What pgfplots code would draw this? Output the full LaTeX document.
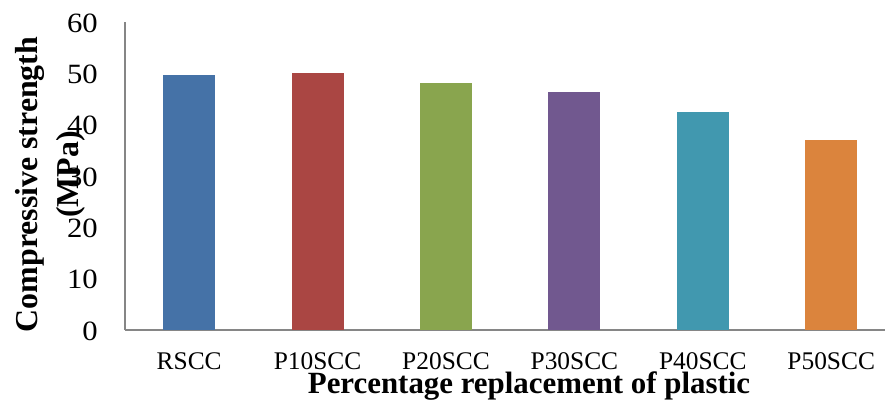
\documentclass[border=0pt]{standalone}
\usepackage{fontspec}
\setmainfont{Liberation Serif}
\newfontfamily\ytf[FakeStretch=1.1]{Liberation Serif}
\usepackage{pgfplots}
\pgfplotsset{compat=1.18}
\definecolor{c1}{HTML}{4572A7}
\definecolor{c2}{HTML}{AA4643}
\definecolor{c3}{HTML}{89A54E}
\definecolor{c4}{HTML}{71588F}
\definecolor{c5}{HTML}{4198AF}
\definecolor{c6}{HTML}{DB843D}
\definecolor{axgray}{HTML}{868686}
\begin{document}
\begin{tikzpicture}
\begin{axis}[
  at={(125bp,74bp)}, anchor=south west,
  scale only axis, width=760bp, height=308bp,
  xmin=-0.5, xmax=5.419, ymin=0, ymax=60,
  ytick={0,10,...,60},
  xtick={0,1,2,3,4,5},
  xticklabels={RSCC,P10SCC,P20SCC,P30SCC,P40SCC,P50SCC},
  axis lines*=left,
  axis line style={draw=axgray, line width=1.6bp},
  major tick length=0pt,
  /pgf/number format/assume math mode=true,
  yticklabel style={font={\fontsize{28}{32}\ytf}, anchor=east, inner sep=0pt, xshift=-27bp, yshift=-1bp},
  xticklabel style={font={\fontsize{25.5}{30}\selectfont}, anchor=base, inner sep=0pt, yshift=-39bp},
  ybar, bar width=52bp, bar shift=0pt,
  clip=false,
]
\addplot[draw=none, fill=c1] coordinates {(0,49.7)};
\addplot[draw=none, fill=c2] coordinates {(1,50.1)};
\addplot[draw=none, fill=c3] coordinates {(2,48.1)};
\addplot[draw=none, fill=c4] coordinates {(3,46.4)};
\addplot[draw=none, fill=c5] coordinates {(4,42.5)};
\addplot[draw=none, fill=c6] coordinates {(5,37.0)};
\end{axis}
\node[font={\fontsize{32}{41}\selectfont\bfseries}, rotate=90, anchor=base, inner sep=0pt] at (37bp,219.5bp) {Compressive strength};
\node[font={\fontsize{32}{41}\selectfont\bfseries}, rotate=90, anchor=base, inner sep=0pt] at (78bp,229.5bp) {(MPa)};
\node[font={\fontsize{31}{36}\selectfont\bfseries}, anchor=base, inner sep=0pt] at (529bp,11bp) {Percentage replacement of plastic};
\pgfresetboundingbox
\path[use as bounding box] (0,0) rectangle (885bp,404bp);
\end{tikzpicture}
\end{document}
